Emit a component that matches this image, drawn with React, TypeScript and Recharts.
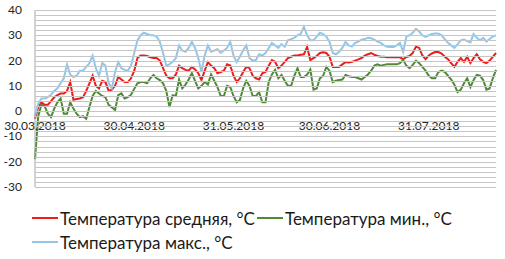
import React from 'react';
import { LineChart, Line, XAxis, YAxis, Legend } from 'recharts';

// Daily dates from 30.03.2018 (145 days)
const START_DATE = [2018, 2, 30];
const DAY_COUNT = 145;
const dates: string[] = [];
for (let i = 0; i < DAY_COUNT; i++) {
  const d = new Date(Date.UTC(START_DATE[0], START_DATE[1], START_DATE[2] + i));
  const dd = String(d.getUTCDate()).padStart(2, '0');
  const mm = String(d.getUTCMonth() + 1).padStart(2, '0');
  dates.push(`${dd}.${mm}.${d.getUTCFullYear()}`);
}

const xTicks = ['30.03.2018', '30.04.2018', '31.05.2018', '30.06.2018', '31.07.2018'];
const yTicks = [-30, -20, -10, 0, 10, 20, 30, 40];
const Y_DOMAIN = [-30, 40];
const gridValues = [-30, -28, -26, -24, -22, -20, -18, -16, -14, -12, -10, -8, -6, -4, -2, 0, 2, 4, 6, 8, 10, 12, 14, 16, 18, 20, 22, 24, 26, 28, 30, 32, 34, 36, 38, 40];

const tAvg = [
  -3, 1.5, 3.5, 2.5, 2.5, 4, 5.5, 6.3, 7, 7,
  8, 11.5, 4.5, 4.8, 5, 5.5, 8, 11, 14, 10,
  9, 12, 11.5, 8, 8.5, 10, 13.5, 12.5, 11.5, 11.5,
  13, 16, 21, 22, 22, 21.8, 21.3, 21, 21, 20,
  17, 14, 13, 13, 14.5, 18, 17, 16.3, 16, 17.5,
  16.5, 15, 12.3, 16, 19.4, 18, 17, 15, 15.5, 16,
  18.5, 18, 14, 11.5, 13, 15.5, 17.5, 17, 14, 13,
  12.5, 15, 15.5, 18, 20.2, 19.5, 17, 18, 19.5, 21,
  21.5, 22, 22, 22.3, 22.5, 25.4, 20.2, 21, 21.8, 23,
  23.3, 23, 21.5, 17.5, 17.5, 17.5, 18.5, 19.4, 19.2, 19.5,
  20, 20.5, 21, 22, 22.5, 23, 22.3, 21.8, 21.5, 21.5,
  21.3, 21.3, 21.3, 21.3, 21.3, 20.5, 21.4, 21.8, 23, 25.5,
  25, 22, 20.5, 22, 22.8, 23.4, 23.4, 22.8, 21.5, 20.5,
  19, 17.5, 19.5, 21, 19.5, 21.5, 19, 21, 22.5, 20.5,
  19.5, 19, 20, 21.5, 23,
];

const tMin = [
  -19, -2, 2.5, 2, -1, -2.4, 1, 3.5, 5, -1,
  -1, 3.5, 1, -1, -2.4, -2, -3, 1.6, 6, 8,
  7, 6, 5.5, 2.5, 1.5, 0.4, 6.3, 7, 5, 5.5,
  6.5, 8.8, 11, 11.5, 11.5, 11, 13, 14.3, 13, 12.3,
  11, 8, 1.6, 6.3, 6, 12.5, 9, 10.5, 12.5, 15,
  12, 9, 10, 11.5, 10.5, 14.5, 12, 9.5, 6, 6,
  10, 9.5, 6, 3.5, 4.4, 9, 12, 10, 6, 6,
  7.5, 3.5, 3.5, 11.5, 14.5, 16.3, 13, 14.3, 12, 10,
  10, 14, 17, 13.5, 13.5, 14.5, 16.5, 8.5, 9, 13,
  14, 17.5, 16, 11.5, 12, 12.3, 12.5, 14.3, 13.8, 13.5,
  13.5, 13, 12.5, 13.5, 14.5, 16, 18, 18.5, 18, 18.3,
  18.5, 18.5, 18.5, 18.5, 19, 20.2, 18, 17, 18.3, 20,
  19, 17.5, 16, 14, 13, 13, 15.5, 16, 15.5, 14,
  12.5, 10.5, 7.5, 8.5, 11, 13, 9.5, 12.3, 14.3, 14,
  12.3, 8.5, 9, 13, 16.3,
];

const tMax = [
  -2, 3, 5, 5, 5.5, 6.5, 8, 9, 11, 13,
  18.5, 14.5, 13.5, 14, 16, 16, 17.5, 19, 22, 17,
  14, 19, 18, 11, 9, 15.5, 19.4, 17, 16.3, 16,
  18, 23, 28, 30, 31, 30.5, 30, 30, 29.5, 27.4,
  23, 18, 18.5, 19.5, 21, 26, 24, 23.5, 25, 27.4,
  25, 21, 15.5, 22, 26, 23.5, 24, 24.5, 23, 24,
  25, 27.4, 22, 19.4, 21.5, 24, 26, 21, 20, 20.2,
  22.5, 22, 23, 25, 27, 26, 25, 26.5, 25.5, 28,
  28.5, 29, 30, 30.5, 33.3, 30, 28, 28, 29.5, 31,
  30.5, 29.5, 27.4, 23, 22.5, 23.5, 25, 27.4, 26, 25.5,
  27, 27.5, 28.3, 28.5, 29, 28.8, 28.3, 27.5, 27, 26,
  25.5, 25.4, 25.4, 26, 27, 23.4, 29.5, 30, 31, 32.5,
  31.5, 30, 29.4, 30, 30.5, 30.7, 30.7, 30, 28.5, 27,
  26, 25, 26.5, 28, 28.3, 27.7, 27.2, 30.5, 29, 28,
  29, 27.5, 28.5, 29.5, 30,
];

const seriesNames = {
  avg: 'Температура средняя, °C',
  min: 'Температура мин., °C',
  max: 'Температура макс., °C',
};

const data = dates.map((date, i) => ({
  date,
  avg: tAvg[i],
  min: tMin[i],
  max: tMax[i],
}));

const FONT = 'Lato, "Liberation Sans", sans-serif';
const CHART_W = 505;
const CHART_H = 259;
const MARGIN = { top: 10, right: 9, left: 0, bottom: 71 };
const Y_AXIS_W = 35;
const PLOT_LEFT = MARGIN.left + Y_AXIS_W;
const PLOT_RIGHT = CHART_W - MARGIN.right;

const renderXTick = (props: any) => {
  const { x, y, payload } = props;
  return (
    <text x={x} y={y} dy={-57} textAnchor="middle" fontSize={12} fill="#262626" fontFamily={FONT}>
      {payload.value}
    </text>
  );
};

// Each y tick (every 2 units) draws a horizontal grid line at the scale position;
// ticks at multiples of 10 also get their label.
const renderYTick = (props: any) => {
  const { x, y, payload } = props;
  const yy = Math.round(y) + 0.5;
  const showLabel = yTicks.includes(payload.value);
  return (
    <g>
      <line x1={PLOT_LEFT} x2={PLOT_RIGHT} y1={yy} y2={yy} stroke="#c6c6c6" strokeWidth={1} shapeRendering="crispEdges" />
      {showLabel && (
        <text x={x} y={y} dy={4} textAnchor="end" fontSize={12} fill="#262626" fontFamily={FONT}>
          {payload.value}
        </text>
      )}
    </g>
  );
};

const LegendContent = (props: any) => {
  const items = props.payload || [];
  const byKey: Record<string, any> = {};
  items.forEach((it: any) => { byKey[it.dataKey] = it; });
  const rows = [['avg', 'min'], ['max']];
  return (
    <div style={{ fontFamily: FONT, fontSize: 17, color: '#1a1a1a', paddingLeft: 32 }}>
      {rows.map((row, ri) => (
        <div key={ri} style={{ display: 'flex', alignItems: 'center', height: 24 }}>
          {row.map((k) => {
            const it = byKey[k];
            if (!it) return null;
            return (
              <div key={k} style={{ display: 'flex', alignItems: 'center', marginRight: 2 }}>
                <svg width={26} height={4} style={{ marginRight: 2 }}>
                  <line x1={0} y1={2} x2={26} y2={2} stroke={it.color} strokeWidth={2} />
                </svg>
                <span style={{ whiteSpace: 'nowrap' }}>{it.value}</span>
              </div>
            );
          })}
        </div>
      ))}
    </div>
  );
};

export default function App() {
  return (
    <div style={{ position: 'absolute', left: 0, top: 0, width: CHART_W, height: CHART_H, background: '#fff' }}>
      <LineChart width={CHART_W} height={CHART_H} data={data} margin={MARGIN}>
        <XAxis
          dataKey="date"
          ticks={xTicks}
          interval={0}
          height={1}
          tickSize={0}
          tickMargin={0}
          axisLine={false}
          tickLine={false}
          tick={renderXTick}
        />
        <YAxis
          domain={Y_DOMAIN}
          ticks={gridValues}
          width={Y_AXIS_W}
          tickLine={false}
          tickSize={6}
          tickMargin={7}
          axisLine={{ stroke: '#a6a6a6' }}
          tick={renderYTick}
          interval={0}
        />
        <Line dataKey="avg" name={seriesNames.avg} stroke="#ee1c1c" strokeWidth={2} dot={false} isAnimationActive={false} />
        <Line dataKey="min" name={seriesNames.min} stroke="#4f8a36" strokeWidth={2} dot={false} isAnimationActive={false} />
        <Line dataKey="max" name={seriesNames.max} stroke="#92c5ea" strokeWidth={2} dot={false} isAnimationActive={false} />
        <Legend
          layout="horizontal"
          verticalAlign="middle"
          align="center"
          content={<LegendContent />}
          wrapperStyle={{ position: 'absolute', top: 206, left: 0, width: CHART_W }}
        />
      </LineChart>
    </div>
  );
}
